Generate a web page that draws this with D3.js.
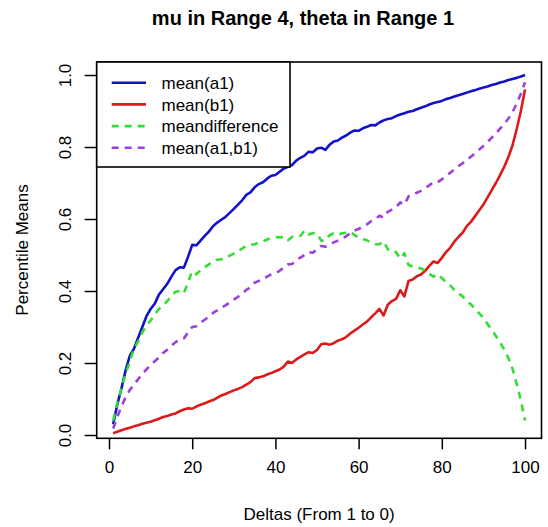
<!DOCTYPE html>
<html>
<head>
<meta charset="utf-8">
<script src="https://cdn.jsdelivr.net/npm/d3@7/dist/d3.min.js"></script>
<style>
  html, body { margin: 0; padding: 0; background: #ffffff; }
  svg { display: block; font-family: "Liberation Sans", Arial, Helvetica, sans-serif; }
</style>
</head>
<body>
<svg id="chart" width="548" height="527"></svg>
<script>
// Delta index 1..100
const deltas = d3.range(1, 101);

const meanA1 = [
  0.030, 0.085, 0.130, 0.180, 0.220, 0.240, 0.270, 0.300, 0.330, 0.350,
  0.365, 0.390, 0.405, 0.420, 0.440, 0.458, 0.466, 0.465, 0.495, 0.528,
  0.527, 0.540, 0.553, 0.565, 0.580, 0.590, 0.598, 0.606, 0.617, 0.628,
  0.640, 0.652, 0.667, 0.674, 0.688, 0.697, 0.702, 0.712, 0.720, 0.722,
  0.731, 0.740, 0.745, 0.750, 0.762, 0.770, 0.776, 0.787, 0.785, 0.796,
  0.798, 0.792, 0.806, 0.815, 0.818, 0.826, 0.832, 0.840, 0.846, 0.845,
  0.852, 0.856, 0.861, 0.860, 0.868, 0.874, 0.878, 0.880, 0.886, 0.890,
  0.894, 0.898, 0.900, 0.905, 0.909, 0.913, 0.918, 0.922, 0.925, 0.928,
  0.933, 0.936, 0.940, 0.944, 0.947, 0.951, 0.955, 0.958, 0.962, 0.965,
  0.968, 0.972, 0.975, 0.979, 0.982, 0.986, 0.989, 0.992, 0.996, 1.000
];

const meanB1 = [
  0.005, 0.009, 0.013, 0.017, 0.020, 0.024, 0.027, 0.031, 0.034, 0.037,
  0.041, 0.045, 0.050, 0.053, 0.057, 0.060, 0.066, 0.071, 0.074, 0.073,
  0.079, 0.084, 0.088, 0.093, 0.097, 0.103, 0.110, 0.114, 0.119, 0.124,
  0.128, 0.133, 0.140, 0.147, 0.158, 0.160, 0.163, 0.168, 0.172, 0.177,
  0.182, 0.190, 0.204, 0.200, 0.210, 0.217, 0.224, 0.230, 0.228, 0.236,
  0.252, 0.254, 0.251, 0.255, 0.262, 0.266, 0.272, 0.282, 0.290, 0.298,
  0.307, 0.315, 0.327, 0.338, 0.350, 0.332, 0.362, 0.372, 0.378, 0.402,
  0.385, 0.428, 0.432, 0.441, 0.446, 0.456, 0.470, 0.482, 0.478, 0.492,
  0.508, 0.520, 0.537, 0.550, 0.562, 0.580, 0.592, 0.608, 0.624, 0.640,
  0.660, 0.680, 0.700, 0.722, 0.745, 0.772, 0.805, 0.850, 0.900, 0.960
];

const meanDifference = [
  0.040, 0.090, 0.130, 0.170, 0.205, 0.240, 0.260, 0.285, 0.305, 0.318,
  0.335, 0.350, 0.360, 0.372, 0.385, 0.398, 0.400, 0.394, 0.425, 0.455,
  0.446, 0.458, 0.466, 0.474, 0.482, 0.487, 0.488, 0.492, 0.498, 0.504,
  0.510, 0.518, 0.526, 0.528, 0.530, 0.535, 0.538, 0.543, 0.548, 0.550,
  0.549, 0.550, 0.541, 0.550, 0.552, 0.553, 0.568, 0.557, 0.561, 0.560,
  0.540, 0.540, 0.555, 0.560, 0.556, 0.560, 0.562, 0.564, 0.556, 0.548,
  0.545, 0.541, 0.534, 0.530, 0.530, 0.538, 0.516, 0.508, 0.508, 0.490,
  0.505, 0.472, 0.468, 0.464, 0.463, 0.457, 0.448, 0.440, 0.447, 0.436,
  0.425, 0.416, 0.403, 0.394, 0.385, 0.371, 0.363, 0.350, 0.338, 0.325,
  0.308, 0.292, 0.275, 0.257, 0.237, 0.214, 0.184, 0.142, 0.096, 0.040
];

const meanA1B1 = [
  0.018, 0.050, 0.080, 0.105, 0.125, 0.140, 0.155, 0.170, 0.182, 0.195,
  0.205, 0.215, 0.228, 0.237, 0.248, 0.258, 0.265, 0.268, 0.285, 0.300,
  0.302, 0.312, 0.320, 0.329, 0.339, 0.346, 0.354, 0.360, 0.368, 0.376,
  0.384, 0.393, 0.403, 0.410, 0.423, 0.428, 0.432, 0.440, 0.446, 0.449,
  0.456, 0.465, 0.474, 0.475, 0.486, 0.493, 0.500, 0.508, 0.506, 0.516,
  0.525, 0.523, 0.528, 0.535, 0.540, 0.546, 0.552, 0.561, 0.568, 0.572,
  0.580, 0.585, 0.594, 0.599, 0.609, 0.604, 0.620, 0.626, 0.632, 0.646,
  0.640, 0.663, 0.666, 0.673, 0.678, 0.685, 0.694, 0.702, 0.702, 0.710,
  0.720, 0.728, 0.738, 0.747, 0.755, 0.765, 0.773, 0.783, 0.793, 0.803,
  0.814, 0.826, 0.838, 0.851, 0.864, 0.879, 0.897, 0.921, 0.948, 0.980
];

const xTicks = [0, 20, 40, 60, 80, 100];
const yTicks = [0.0, 0.2, 0.4, 0.6, 0.8, 1.0];

const seriesNames = ["mean(a1)", "mean(b1)", "meandifference", "mean(a1,b1)"];
const seriesColors = ["#1212c8", "#dd1a1a", "#33dd33", "#9b3fdf"];
const seriesDashed = [false, false, true, true];
const seriesValues = [meanA1, meanB1, meanDifference, meanA1B1];

const titleText = "mu in Range 4, theta in Range 1";
const xLabel = "Deltas (From 1 to 0)";
const yLabel = "Percentile Means";

// ---- layout ----
const box = { left: 96.7, right: 541.5, top: 62, bottom: 438.3 };
const fontSize = 17;

const svg = d3.select("#chart");
svg.append("rect").attr("width", 548).attr("height", 527).attr("fill", "#fff");

const x = d3.scaleLinear().domain([-2.96, 103.96]).range([box.left, box.right]);
const y = d3.scaleLinear().domain([0, 1]).range([435, 75]);

// series lines, clipped to the plot box
svg.append("clipPath").attr("id", "plotClip")
  .append("rect")
  .attr("x", box.left).attr("y", box.top)
  .attr("width", box.right - box.left).attr("height", box.bottom - box.top);

const line = d3.line().x((d, i) => x(deltas[i])).y(d => y(d));
const lines = svg.append("g").attr("clip-path", "url(#plotClip)");
seriesValues.forEach((vals, k) => {
  lines.append("path")
    .datum(vals)
    .attr("d", line)
    .attr("fill", "none")
    .attr("stroke", seriesColors[k])
    .attr("stroke-width", 2.6)
    .attr("stroke-linejoin", "round")
    .attr("stroke-dasharray", seriesDashed[k] ? "7,6" : null);
});

// x axis (ticks below the box)
const xAxis = d3.axisBottom(x).tickValues(xTicks).tickSize(11).tickPadding(12)
  .tickFormat(d3.format("d"));
const gx = svg.append("g").attr("transform", `translate(0,${box.bottom})`).call(xAxis);
gx.select(".domain").remove();
gx.selectAll(".tick line").attr("stroke", "#000").attr("stroke-width", 1.5);
gx.selectAll(".tick text").attr("fill", "#000")
  .style("font-size", fontSize + "px").style("font-family", "inherit");

// y axis (ticks left of the box, labels rotated)
const yAxis = d3.axisLeft(y).tickValues(yTicks).tickSize(12).tickPadding(0)
  .tickFormat(d3.format(".1f"));
const gy = svg.append("g").attr("transform", `translate(${box.left},0)`).call(yAxis);
gy.select(".domain").remove();
gy.selectAll(".tick line").attr("stroke", "#000").attr("stroke-width", 1.5);
gy.selectAll(".tick text")
  .attr("fill", "#000")
  .attr("x", null).attr("dy", null)
  .attr("text-anchor", "middle")
  .attr("transform", `translate(${70.5 - box.left},0) rotate(-90)`)
  .style("font-size", fontSize + "px").style("font-family", "inherit");

// plot box
svg.append("rect")
  .attr("x", box.left).attr("y", box.top)
  .attr("width", box.right - box.left).attr("height", box.bottom - box.top)
  .attr("fill", "none").attr("stroke", "#000").attr("stroke-width", 1.6);

// legend
const legend = svg.append("g");
const legBox = { x0: box.left, y0: box.top, x1: 290, y1: 167 };
legend.append("rect")
  .attr("x", legBox.x0).attr("y", legBox.y0)
  .attr("width", legBox.x1 - legBox.x0).attr("height", legBox.y1 - legBox.y0)
  .attr("fill", "#fff").attr("stroke", "#000").attr("stroke-width", 1.6);
seriesNames.forEach((name, k) => {
  const ry = 82.7 + k * 21.7;
  legend.append("line")
    .attr("x1", 111.7).attr("x2", 146).attr("y1", ry).attr("y2", ry)
    .attr("stroke", seriesColors[k]).attr("stroke-width", 2.6)
    .attr("stroke-dasharray", seriesDashed[k] ? "7,6" : null);
  legend.append("text")
    .attr("x", 161.5).attr("y", ry).attr("dy", "0.36em")
    .style("font-size", fontSize + "px").attr("fill", "#000")
    .text(name);
});

// titles
svg.append("text")
  .attr("x", 303).attr("y", 25)
  .attr("text-anchor", "middle")
  .style("font-size", "20px").style("font-weight", "bold")
  .text(titleText);

svg.append("text")
  .attr("x", (box.left + box.right) / 2).attr("y", 520)
  .attr("text-anchor", "middle")
  .style("font-size", fontSize + "px")
  .text(xLabel);

svg.append("text")
  .attr("transform", `translate(28,250) rotate(-90)`)
  .attr("text-anchor", "middle")
  .style("font-size", fontSize + "px")
  .text(yLabel);
</script>
</body>
</html>
